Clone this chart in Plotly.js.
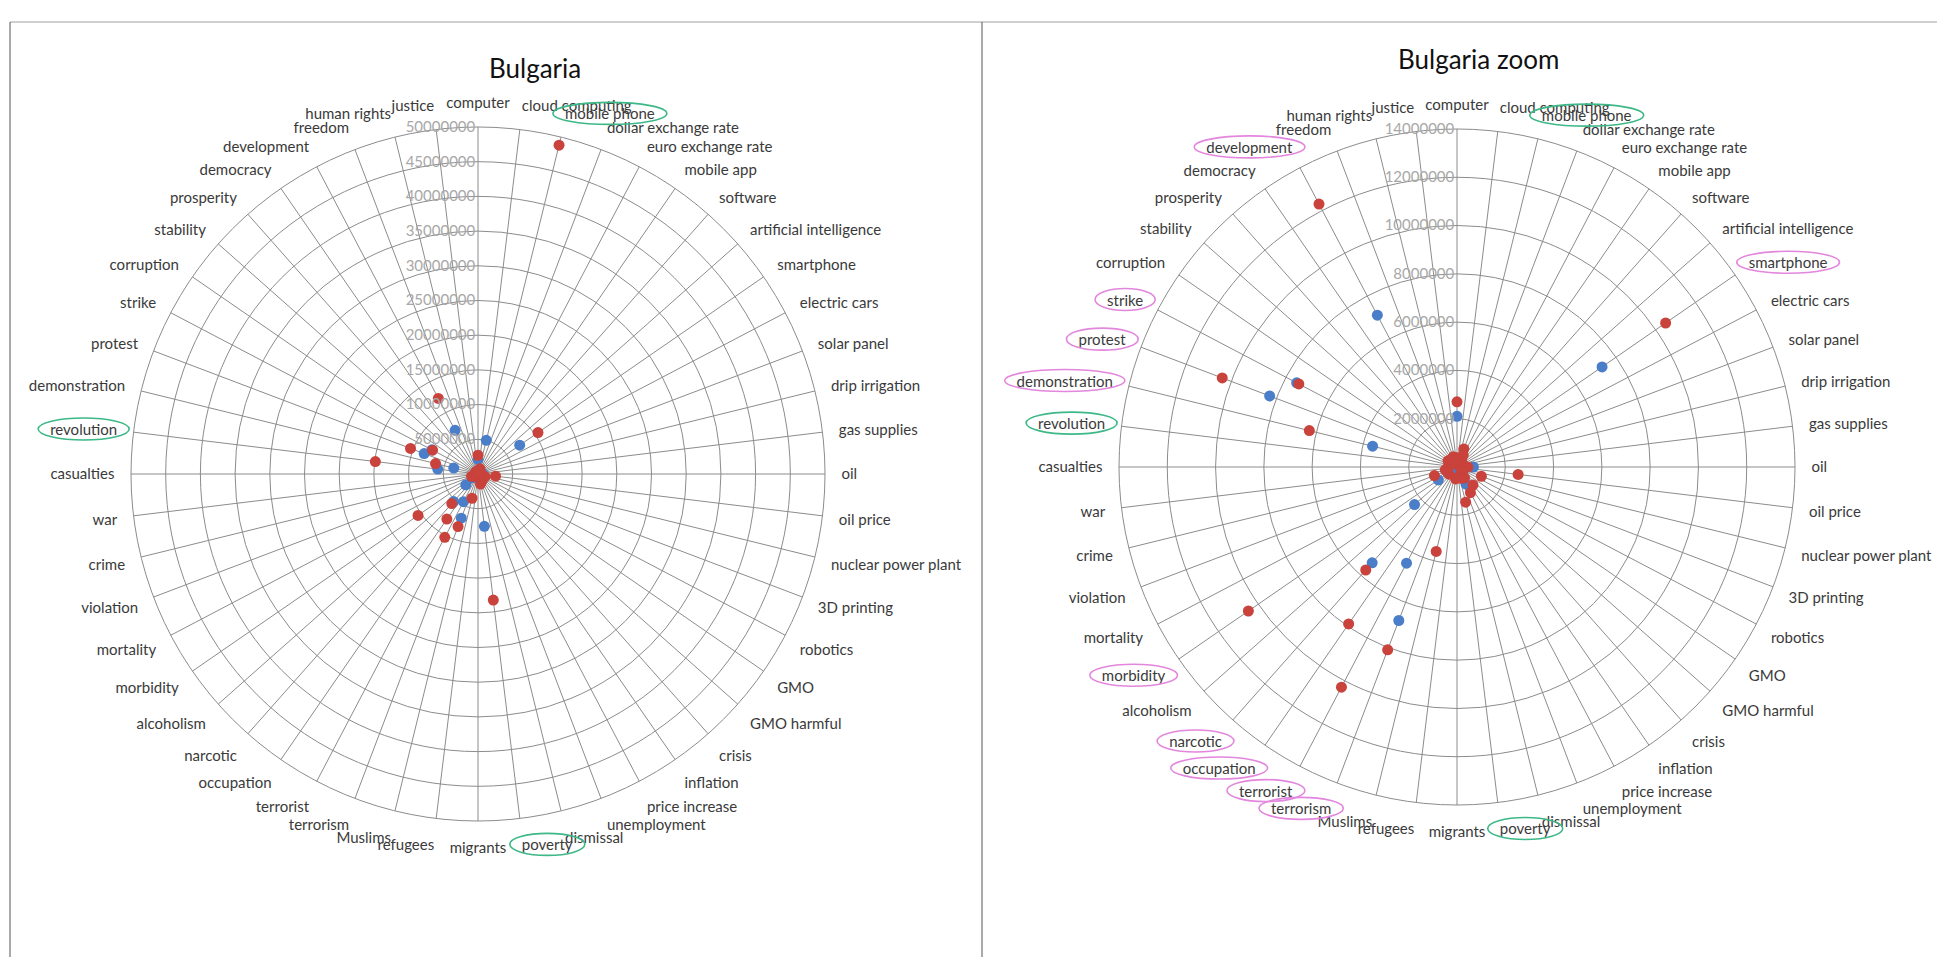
<!DOCTYPE html>
<html>
<head>
<meta charset="utf-8">
<script src="https://cdn.plot.ly/plotly-3.0.1.min.js"></script>
<style>
  html, body { margin: 0; padding: 0; background: #ffffff; }
  #chart { width: 1937px; height: 957px; }
</style>
</head>
<body>
<div id="chart"></div>
<script>
// ---------------- data ----------------
const categories = [
  "computer", "cloud computing", "mobile phone", "dollar exchange rate", "euro exchange rate",
  "mobile app", "software", "artificial intelligence", "smartphone", "electric cars",
  "solar panel", "drip irrigation", "gas supplies", "oil", "oil price",
  "nuclear power plant", "3D printing", "robotics", "GMO", "GMO harmful",
  "crisis", "inflation", "price increase", "unemployment", "dismissal",
  "poverty", "migrants", "refugees", "Muslims", "terrorism",
  "terrorist", "occupation", "narcotic", "alcoholism", "morbidity",
  "mortality", "violation", "crime", "war", "casualties",
  "revolution", "demonstration", "protest", "strike", "corruption",
  "stability", "prosperity", "democracy", "development", "freedom",
  "human rights", "justice"
];

const blueValues = [
  2100000, 150000, 5000000, 150000, 120000,
  100000, 200000, 100000, 7300000, 100000,
  100000, 50000, 150000, 680000, 250000,
  150000, 100000, 100000, 200000, 100000,
  350000, 250000, 800000, 300000, 250000,
  7600000, 300000, 350000, 300000, 6800000,
  4500000, 350000, 5300000, 2350000, 940000,
  300000, 300000, 350000, 250000, 200000,
  5850000, 3600000, 8300000, 7500000, 300000,
  150000, 150000, 200000, 7100000, 250000,
  150000, 200000
];

const redValues = [
  2700000, 350000, 48800000, 800000, 550000,
  250000, 300000, 150000, 10500000, 150000,
  150000, 100000, 300000, 450000, 2550000,
  300000, 1080000, 200000, 250000, 250000,
  1000000, 550000, 1200000, 500000, 1500000,
  18300000, 450000, 500000, 3600000, 8100000,
  10300000, 7900000, 5700000, 450000, 10500000,
  450000, 1000000, 500000, 400000, 350000,
  14900000, 6300000, 10400000, 7400000, 450000,
  300000, 250000, 400000, 12300000, 450000,
  300000, 400000
];

// categories left out of the "zoom" chart
const zoomOmitted = ["mobile phone", "revolution", "poverty"];

const fullTickVals = [5000000, 10000000, 15000000, 20000000, 25000000, 30000000, 35000000, 40000000, 45000000, 50000000];
const zoomTickVals = [2000000, 4000000, 6000000, 8000000, 10000000, 12000000, 14000000];

const panelTitles = ["Bulgaria", "Bulgaria zoom"];
const greenCircled = ["mobile phone", "revolution", "poverty"];
const pinkCircled = ["development", "strike", "protest", "demonstration", "smartphone",
                     "morbidity", "narcotic", "occupation", "terrorist", "terrorism"];

// ---------------- styling ----------------
const W = 1937, H = 957;
const BLUE = "#4A7EC8";
const RED = "#C9423C";
const GRID = "#8c8c8c";
const FONT = "Lato, 'Open Sans', sans-serif";

function zoomed(values) {
  return values.map((v, i) => zoomOmitted.includes(categories[i]) ? null : v);
}

function trace(values, color, subplot) {
  return {
    type: "scatterpolar",
    mode: "markers",
    r: values,
    theta: categories,
    subplot: subplot,
    marker: { color: color, size: 11, line: { width: 0 } },
    hoverinfo: "skip",
    showlegend: false,
    cliponaxis: true
  };
}

const data = [
  trace(blueValues, BLUE, "polar"),
  trace(redValues, RED, "polar"),
  trace(zoomed(blueValues), BLUE, "polar2"),
  trace(zoomed(redValues), RED, "polar2")
];

function polarLayout(cx, cy, R, maxR, tickvals) {
  return {
    domain: {
      x: [(cx - R) / W, (cx + R) / W],
      y: [1 - (cy + R) / H, 1 - (cy - R) / H]
    },
    bgcolor: "rgba(0,0,0,0)",
    angularaxis: {
      type: "category",
      categoryorder: "array",
      categoryarray: categories,
      rotation: 90,
      direction: "clockwise",
      showgrid: true,
      gridcolor: GRID,
      gridwidth: 1,
      showline: true,
      linecolor: GRID,
      linewidth: 1,
      ticks: "outside",
      ticklen: 13,
      tickcolor: "rgba(0,0,0,0)",
      tickfont: { family: FONT, size: 15, color: "#3a3a3a" }
    },
    radialaxis: {
      range: [0, maxR],
      angle: 90,
      side: "counterclockwise",
      tickangle: 90,
      tickmode: "array",
      tickvals: tickvals,
      tickformat: "d",
      showline: false,
      ticks: "",
      showgrid: true,
      gridcolor: GRID,
      gridwidth: 1,
      tickfont: { family: FONT, size: 15, color: "#a8a8a8" }
    }
  };
}

const layout = {
  width: W,
  height: H,
  margin: { l: 0, r: 0, t: 0, b: 0 },
  paper_bgcolor: "#ffffff",
  showlegend: false,
  polar: polarLayout(478, 474, 347, 50000000, fullTickVals),
  polar2: polarLayout(1457, 467, 338, 14000000, zoomTickVals),
  annotations: [
    { text: panelTitles[0], xref: "paper", yref: "paper", x: 535 / W, y: 1 - 68 / H,
      xanchor: "center", yanchor: "middle", showarrow: false,
      font: { family: FONT, size: 26, color: "#111111" } },
    { text: panelTitles[1], xref: "paper", yref: "paper", x: 1478 / W, y: 1 - 59 / H,
      xanchor: "center", yanchor: "middle", showarrow: false,
      font: { family: FONT, size: 26, color: "#111111" } }
  ],
  shapes: [
    { type: "line", xref: "paper", yref: "paper", x0: 10 / W, x1: 1, y0: 1 - 22 / H, y1: 1 - 22 / H,
      line: { color: "#a0a0a0", width: 1 } },
    { type: "line", xref: "paper", yref: "paper", x0: 10 / W, x1: 10 / W, y0: 0, y1: 1 - 22 / H,
      line: { color: "#555555", width: 1 } },
    { type: "line", xref: "paper", yref: "paper", x0: 982 / W, x1: 982 / W, y0: 0, y1: 1 - 22 / H,
      line: { color: "#555555", width: 1 } }
  ]
};

const gd = document.getElementById("chart");
Plotly.newPlot(gd, data, layout, { staticPlot: true, displayModeBar: false }).then(function () {
  const box = gd.getBoundingClientRect();
  const extra = [];
  function ring(subplotId, names, color) {
    const texts = gd.querySelectorAll("g." + subplotId + " text");
    texts.forEach(function (t) {
      const s = t.textContent;
      if (names.indexOf(s) >= 0) {
        const b = t.getBoundingClientRect();
        const x0 = b.left - box.left - 12, x1 = b.right - box.left + 12;
        const cy = (b.top + b.bottom) / 2 - box.top;
        extra.push({
          type: "circle", xref: "paper", yref: "paper", layer: "above",
          x0: x0 / W, x1: x1 / W, y0: 1 - (cy + 11) / H, y1: 1 - (cy - 11) / H,
          line: { color: color, width: 1.6 }
        });
      }
    });
  }
  ring("polar", greenCircled, "#3DB887");
  ring("polar2", greenCircled, "#3DB887");
  ring("polar2", pinkCircled, "#E386DD");
  return Plotly.relayout(gd, { shapes: layout.shapes.concat(extra) });
});
</script>
</body>
</html>
